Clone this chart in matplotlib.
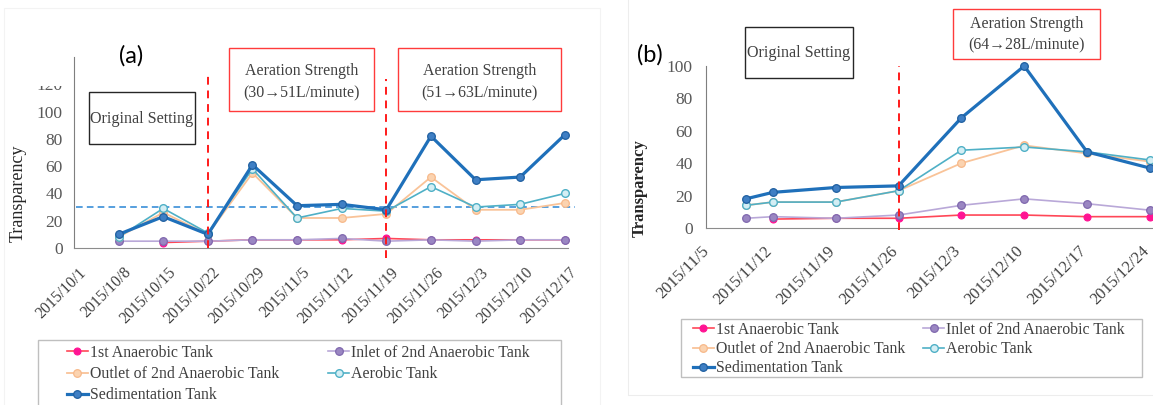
import numpy as np
import matplotlib
matplotlib.use("Agg")
import matplotlib.pyplot as plt
from matplotlib.patches import Rectangle
from matplotlib.lines import Line2D
import matplotlib.transforms as mtransforms

# ---------------- data ----------------
series_names = ["1st Anaerobic Tank", "Inlet of 2nd Anaerobic Tank",
                "Outlet of 2nd Anaerobic Tank", "Aerobic Tank", "Sedimentation Tank"]

# panel (a): days since 2015/10/1
a_tick_days = [0, 7, 14, 21, 28, 35, 42, 49, 56, 63, 70, 77]
a_tick_labels = ["2015/10/1", "2015/10/8", "2015/10/15", "2015/10/22", "2015/10/29",
                 "2015/11/5", "2015/11/12", "2015/11/19", "2015/11/26", "2015/12/3",
                 "2015/12/10", "2015/12/17"]
a_days = [7, 14, 21, 28, 35, 42, 49, 56, 63, 70, 77]
a_first = [np.nan, 4, 5, 6, 6, 6, 7, 6, 6, 6, 6]
a_inlet = [5, 5, 5, 6, 6, 7, 5, 6, 5, 6, 6]
a_outlet = [8, 26, 10, 55, 22, 22, 25, 52, 28, 28, 33]
a_aerobic = [8, 29, 11, 58, 22, 29, 27, 45, 30, 32, 40]
a_sed = [10, 23, 10, 61, 31, 32, 28, 82, 50, 52, 83]
a_ref_level = 30
a_change_days = [21, 49]

# panel (b): days since 2015/11/5
b_tick_days = [0, 7, 14, 21, 28, 35, 42, 49]
b_tick_labels = ["2015/11/5", "2015/11/12", "2015/11/19", "2015/11/26",
                 "2015/12/3", "2015/12/10", "2015/12/17", "2015/12/24"]
b_days = [4, 7, 14, 21, 28, 35, 42, 49]
b_first = [np.nan, 5.5, 6, 6, 8, 8, 7, 7]
b_inlet = [6, 7, 6, 8, 14, 18, 15, 11]
b_outlet = [14, 16, 16, 23, 40, 51, 46, 41]
b_aerobic = [14, 16, 16, 23, 48, 50, 47, 42]
b_sed = [18, 22, 25, 26, 68, 100, 47, 37]
b_change_day = 21

# ---------------- styles ----------------
W, H = 1153, 405
SERIF = ["Liberation Serif", "DejaVu Serif"]
styles = [
    dict(color="#FF4757", lw=1.2, marker="o", ms=5, mfc="#FF1493", mec="#FF1493", mew=0.8),
    dict(color="#B9A8D8", lw=1.2, marker="o", ms=5.5, mfc="#9A86C2", mec="#7F68AE", mew=0.9),
    dict(color="#F9C398", lw=1.3, marker="o", ms=5.5, mfc="#FBD3B0", mec="#F7B98A", mew=0.9),
    dict(color="#4FB0C6", lw=1.2, marker="o", ms=5.5, mfc="#D4EEF4", mec="#4FB0C6", mew=1.0),
    dict(color="#1F70BA", lw=2.3, marker="o", ms=5.5, mfc="#3F7FC4", mec="#1F5FA0", mew=0.9),
]

fig = plt.figure(figsize=(W / 100, H / 100), dpi=100)
fig.patch.set_facecolor("white")


def rect(l, t, r, b):
    return [l / W, 1 - b / H, (r - l) / W, (b - t) / H]


def fbox(x0, y0, x1, y1, ec, lw=1.0, fc="none", z=5):
    p = Rectangle((x0 / W, 1 - y1 / H), (x1 - x0) / W, (y1 - y0) / H,
                  transform=fig.transFigure, fill=(fc != "none"), facecolor=fc,
                  edgecolor=ec, lw=lw, zorder=z)
    fig.add_artist(p)


def ftext(x, y, s, **kw):
    fig.text(x / W, 1 - y / H, s, **kw)


# faint chart-area borders
fbox(4, 8, 600, 410, "#F3F3F3", lw=0.8, z=0)
fbox(628, -5, 1160, 395, "#EDEDED", lw=0.8, z=0)


def style_axes(ax, ytick_size, ypad, xtick_size, xpad, xoff):
    for s in ["top", "right"]:
        ax.spines[s].set_visible(False)
    ax.spines["left"].set_color("#7F7F7F")
    ax.spines["bottom"].set_color("#8C8C8C")
    ax.tick_params(axis="both", length=0)
    ax.tick_params(axis="y", labelsize=ytick_size, labelcolor="#595959", pad=ypad)
    ax.tick_params(axis="x", labelsize=xtick_size, labelcolor="#404040", pad=xpad)
    for lab in ax.get_yticklabels():
        lab.set_fontfamily(SERIF)
    off = mtransforms.ScaledTranslation(xoff / 100, 0, fig.dpi_scale_trans)
    for lab in ax.get_xticklabels():
        lab.set_fontfamily(SERIF)
        lab.set_rotation(45)
        lab.set_ha("right")
        lab.set_va("center")
        lab.set_rotation_mode("anchor")
        lab.set_transform(lab.get_transform() + off)


def plot_series(ax, days, data):
    for vals, st in zip(data, styles):
        ax.plot(days, vals, clip_on=False, zorder=3, **st)


# ---------------- panel (a) ----------------
axa = fig.add_axes(rect(74, 57, 568, 248))
plot_series(axa, a_days, [a_first, a_inlet, a_outlet, a_aerobic, a_sed])
axa.set_xlim(0.3, 77.5)
axa.set_ylim(0, 140)
axa.set_yticks([0, 20, 40, 60, 80, 100, 120])
axa.set_xticks(a_tick_days)
axa.set_xticklabels(a_tick_labels)
style_axes(axa, 12.5, 8, 11.3, 16, 10)
axa.plot([0.3, 78.6], [a_ref_level, a_ref_level], ls=(0, (4, 2.5)), color="#3A8FD8",
         lw=1.2, clip_on=False, zorder=2)
axa.plot([a_change_days[0]] * 2, [0, 129], ls=(0, (4, 3)), color="#FF1A1A", lw=1.4,
         clip_on=False, zorder=4)
axa.plot([a_change_days[1]] * 2, [-7, 124], ls=(0, (4, 3)), color="#FF1A1A", lw=1.4,
         clip_on=False, zorder=4)
# the top tick label is partially hidden in the original
fbox(28, 68, 70, 86, "none", lw=0, fc="white", z=10)

ftext(18, 193, "Transparency", rotation=90, ha="center", va="center",
      fontsize=13, family=SERIF, color="#262626")
ftext(131, 56, "(a)", ha="center", va="center", fontsize=17, family=["Lato", "DejaVu Sans"],
      color="black")

fbox(89, 92, 195, 144, "#262626", lw=1.0)
ftext(142, 119, "Original Setting", ha="center", va="center", fontsize=11.6,
      family=SERIF, color="#404040")
fbox(229, 48, 374, 111, "#FF3B3B", lw=1.0)
ftext(301.5, 71, "Aeration Strength", ha="center", va="center", fontsize=11.4,
      family=SERIF, color="#404040")
ftext(301.5, 93, "(30\u219251L/minute)", ha="center", va="center", fontsize=11.4,
      family=SERIF, color="#404040")
fbox(398, 48, 561, 111, "#FF3B3B", lw=1.0)
ftext(479.5, 71, "Aeration Strength", ha="center", va="center", fontsize=11.4,
      family=SERIF, color="#404040")
ftext(479.5, 93, "(51\u219263L/minute)", ha="center", va="center", fontsize=11.4,
      family=SERIF, color="#404040")

# ---------------- panel (b) ----------------
axb = fig.add_axes(rect(706, 66, 1153, 228))
plot_series(axb, b_days, [b_first, b_inlet, b_outlet, b_aerobic, b_sed])
axb.set_xlim(-0.45, 49.35)
axb.set_ylim(0, 100)
axb.set_yticks([0, 20, 40, 60, 80, 100])
axb.set_xticks(b_tick_days)
axb.set_xticklabels(b_tick_labels)
style_axes(axb, 12.5, 9.5, 12, 15, -3)
axb.plot([b_change_day] * 2, [-1.5, 100], ls=(0, (4, 3)), color="#FF1A1A", lw=1.4,
         clip_on=False, zorder=4)

ftext(640, 188, "Transparency", rotation=90, ha="center", va="center",
      fontsize=12, family=SERIF, fontweight="bold", color="#262626")
ftext(650, 55, "(b)", ha="center", va="center", fontsize=17, family=["Lato", "DejaVu Sans"],
      color="black")
fbox(745, 27, 853, 78, "#262626", lw=1.0)
ftext(799, 53, "Original Setting", ha="center", va="center", fontsize=11.6,
      family=SERIF, color="#404040")
fbox(953, 9, 1100, 59, "#FF3B3B", lw=1.0)
ftext(1026.5, 24, "Aeration Strength", ha="center", va="center", fontsize=11.4,
      family=SERIF, color="#404040")
ftext(1026.5, 45, "(64\u219228L/minute)", ha="center", va="center", fontsize=11.4,
      family=SERIF, color="#404040")

# ---------------- legends ----------------
handles = [Line2D([], [], **st) for st in styles]
order = [0, 2, 4, 1, 3]


def make_legend(x_left, y_top, colspacing, labelspacing, frame):
    fbox(*frame, "#BFBFBF", lw=1.0, z=1)
    leg = fig.legend([handles[i] for i in order], [series_names[i] for i in order],
                     ncol=2, loc="upper left",
                     bbox_to_anchor=(x_left / W, 1 - y_top / H),
                     frameon=False, handlelength=1.3, handletextpad=0.15,
                     columnspacing=colspacing, labelspacing=labelspacing,
                     borderpad=0, borderaxespad=0,
                     prop=dict(family=SERIF, size=11.4))
    for t in leg.get_texts():
        t.set_color("#404040")
    return leg


make_legend(67, 345, 3.1, 0.33, (38, 340, 561, 412))
make_legend(693, 322, 1.15, 0.2, (681, 319, 1142, 377))

fig.savefig("out.png", dpi=100, facecolor="white")
